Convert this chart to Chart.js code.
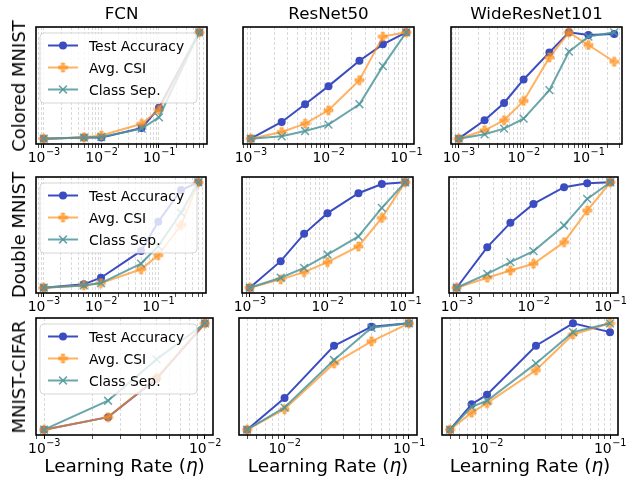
<!DOCTYPE html>
<html>
<head>
<meta charset="utf-8">
<script src="https://cdn.jsdelivr.net/npm/chart.js@4.4.1/dist/chart.umd.min.js"></script>
<style>
  html, body { margin: 0; padding: 0; background: #fff; }
  #fig { position: relative; width: 640px; height: 481px; overflow: hidden;
         font-family: "DejaVu Sans", sans-serif; color: #000; }
  #fig canvas { position: absolute; }
  .lbl { position: absolute; white-space: nowrap; line-height: 1; }
</style>
</head>
<body>
<div id="fig"></div>
<script>
// ---- data: learning rates and normalised metrics per (dataset, model) ----
const models = ['FCN', 'ResNet50', 'WideResNet101'];
const datasetNames = ['Colored MNIST', 'Double MNIST', 'MNIST-CIFAR'];
const seriesNames = ['Test Accuracy', 'Avg. CSI', 'Class Sep.'];

// Colored MNIST
const lrFcnColored  = [1e-3, 5e-3, 1e-2, 5e-2, 1e-1, 5e-1];
const accFcnColored = [0, 0.010, 0.010, 0.100, 0.290, 1];
const csiFcnColored = [0, 0.013, 0.030, 0.140, 0.270, 1];
const sepFcnColored = [0, 0.010, 0.016, 0.094, 0.200, 1];

const lrResColored  = [1e-3, 2.5e-3, 5e-3, 1e-2, 2.5e-2, 5e-2, 1e-1];
const accResColored = [0, 0.157, 0.324, 0.494, 0.733, 0.887, 1];
const csiResColored = [0, 0.063, 0.142, 0.267, 0.550, 0.960, 1];
const sepResColored = [0, 0.022, 0.072, 0.132, 0.324, 0.682, 1];

const lrWideColored  = [1e-3, 2.5e-3, 5e-3, 1e-2, 2.5e-2, 5e-2, 1e-1, 2.5e-1];
const accWideColored = [0, 0.173, 0.336, 0.557, 0.811, 1, 0.975, 0.984];
const csiWideColored = [0, 0.079, 0.173, 0.355, 0.764, 1, 0.881, 0.723];
const sepWideColored = [0, 0.041, 0.094, 0.189, 0.456, 0.818, 0.960, 1];

// Double MNIST
const lrFcnDouble  = [1e-3, 5e-3, 1e-2, 5e-2, 1e-1, 2.5e-1, 5e-1];
const accFcnDouble = [0, 0.032, 0.095, 0.349, 0.625, 0.927, 1];
const csiFcnDouble = [0, 0.022, 0.044, 0.175, 0.308, 0.594, 1];
const sepFcnDouble = [0, 0.022, 0.044, 0.229, 0.394, 0.711, 1];

const lrResDouble  = [1e-3, 2.5e-3, 5e-3, 1e-2, 2.5e-2, 5e-2, 1e-1];
const accResDouble = [0, 0.252, 0.511, 0.707, 0.896, 0.984, 1];
const csiResDouble = [0, 0.079, 0.148, 0.243, 0.391, 0.662, 1];
const sepResDouble = [0, 0.095, 0.189, 0.315, 0.486, 0.757, 1];

const lrWideDouble  = [1e-3, 2.5e-3, 5e-3, 1e-2, 2.5e-2, 5e-2, 1e-1];
const accWideDouble = [0, 0.385, 0.615, 0.795, 0.953, 0.990, 1];
const csiWideDouble = [0, 0.095, 0.164, 0.227, 0.432, 0.732, 1];
const sepWideDouble = [0, 0.132, 0.243, 0.347, 0.590, 0.842, 1];

// MNIST-CIFAR
const lrFcnCifar  = [1e-3, 2.5e-3, 5e-3, 1e-2];
const accFcnCifar = [0, 0.118, 0.479, 1];
const csiFcnCifar = [0, 0.118, 0.486, 1];
const sepFcnCifar = [0, 0.272, 0.661, 1];

const lrResCifar  = [5e-3, 1e-2, 2.5e-2, 5e-2, 1e-1];
const accResCifar = [0, 0.297, 0.789, 0.968, 1];
const csiResCifar = [0, 0.192, 0.623, 0.831, 1];
const sepResCifar = [0, 0.208, 0.655, 0.958, 1];

const lrWideCifar  = [5e-3, 7.5e-3, 1e-2, 2.5e-2, 5e-2, 1e-1];
const accWideCifar = [0, 0.240, 0.329, 0.789, 1, 0.917];
const csiWideCifar = [0, 0.160, 0.249, 0.559, 0.895, 1];
const sepWideCifar = [0, 0.214, 0.272, 0.623, 0.917, 1];

// grid of panels, row = dataset, column = model
const panelData = [
  [lrFcnColored, accFcnColored, csiFcnColored, sepFcnColored],
  [lrResColored, accResColored, csiResColored, sepResColored],
  [lrWideColored, accWideColored, csiWideColored, sepWideColored],
  [lrFcnDouble, accFcnDouble, csiFcnDouble, sepFcnDouble],
  [lrResDouble, accResDouble, csiResDouble, sepResDouble],
  [lrWideDouble, accWideDouble, csiWideDouble, sepWideDouble],
  [lrFcnCifar, accFcnCifar, csiFcnCifar, sepFcnCifar],
  [lrResCifar, accResCifar, csiResCifar, sepResCifar],
  [lrWideCifar, accWideCifar, csiWideCifar, sepWideCifar]
];

// ---- layout: plot-box edges [left, top, right, bottom] in page pixels ----
const boxes = [
  [36, 27, 207, 144], [243, 27, 414, 144], [451, 27, 622, 144],
  [36, 177, 206, 293], [242, 177, 413, 293], [449, 177, 618, 293],
  [36, 318, 213, 435], [239, 318, 417, 435], [442, 318, 618, 435]
];
const MARGIN = 20, AXIS_H = 30;
const FONT = '"DejaVu Sans", sans-serif';
const TICK_SIZE = 13.9;

// ---- styles ----
const accColor = '#3b4cc0';
const csiColor = 'rgba(255,145,30,0.7)';
const sepColor = 'rgba(80,150,155,0.85)';

// filled "plus" marker
function makePlus(color) {
  const s = 11, c = document.createElement('canvas');
  c.width = s; c.height = s;
  const g = c.getContext('2d');
  const t = 3.2, a = 1, b = s - 1, m0 = (s - t) / 2;
  g.fillStyle = color; g.strokeStyle = color; g.lineWidth = 0.8;
  g.beginPath();
  g.moveTo(m0, a); g.lineTo(m0 + t, a); g.lineTo(m0 + t, m0); g.lineTo(b, m0);
  g.lineTo(b, m0 + t); g.lineTo(m0 + t, m0 + t); g.lineTo(m0 + t, b); g.lineTo(m0, b);
  g.lineTo(m0, m0 + t); g.lineTo(a, m0 + t); g.lineTo(a, m0); g.lineTo(m0, m0);
  g.closePath(); g.fill(); g.stroke();
  return c;
}
const plusMarker = makePlus(csiColor);

function isDecade(v) { const l = Math.log10(v); return Math.abs(l - Math.round(l)) < 1e-9; }
function logTicks(min, max) {
  const out = [];
  for (let e = Math.floor(Math.log10(min)); e <= Math.ceil(Math.log10(max)); e++) {
    for (let k = 1; k <= 9; k++) {
      const v = parseFloat((k * Math.pow(10, e)).toPrecision(12));
      if (v >= min && v <= max) out.push({ value: v, major: k === 1 });
    }
  }
  return out;
}

// frame around the plot box, plus "10^n" labels under the decade ticks
const framePlugin = {
  id: 'frame',
  afterDraw(chart) {
    const { ctx, chartArea: a } = chart;
    ctx.save();
    ctx.strokeStyle = '#000';
    ctx.lineWidth = 1.6;
    ctx.strokeRect(a.left, a.top, a.right - a.left, a.bottom - a.top);

    const xs = chart.scales.x;
    const base = a.bottom + 17.5;
    const supSize = TICK_SIZE * 0.7;
    ctx.fillStyle = '#000';
    ctx.textBaseline = 'alphabetic';
    ctx.textAlign = 'left';
    xs.ticks.forEach(t => {
      if (!isDecade(t.value)) return;
      const x = xs.getPixelForValue(t.value);
      const expText = String(Math.round(Math.log10(t.value))).replace('-', '\u2212');
      ctx.font = TICK_SIZE + 'px ' + FONT;
      const wMain = ctx.measureText('10').width;
      ctx.font = supSize + 'px ' + FONT;
      const wSup = ctx.measureText(expText).width;
      const x0 = x - (wMain + wSup) / 2;
      ctx.font = TICK_SIZE + 'px ' + FONT;
      ctx.fillText('10', x0, base);
      ctx.font = supSize + 'px ' + FONT;
      ctx.fillText(expText, x0 + wMain + 0.5, base - 6.4);
    });
    ctx.restore();
  }
};

function drawMarker(ctx, kind, x, y) {
  ctx.save();
  if (kind === 0) {
    ctx.fillStyle = accColor;
    ctx.beginPath(); ctx.arc(x, y, 4, 0, Math.PI * 2); ctx.fill();
  } else if (kind === 1) {
    ctx.drawImage(plusMarker, x - plusMarker.width / 2, y - plusMarker.height / 2);
  } else {
    const d = 3.9;
    ctx.strokeStyle = sepColor; ctx.lineWidth = 1.5;
    ctx.beginPath();
    ctx.moveTo(x - d, y - d); ctx.lineTo(x + d, y + d);
    ctx.moveTo(x - d, y + d); ctx.lineTo(x + d, y - d);
    ctx.stroke();
  }
  ctx.restore();
}

const legendPlugin = {
  id: 'panelLegend',
  afterDatasetsDraw(chart) {
    const { ctx, chartArea: a } = chart;
    const x0 = a.left + 4, y0 = a.top + 6, w = 157, h = 70, r = 4;
    ctx.save();
    ctx.beginPath();
    ctx.moveTo(x0 + r, y0);
    ctx.arcTo(x0 + w, y0, x0 + w, y0 + h, r);
    ctx.arcTo(x0 + w, y0 + h, x0, y0 + h, r);
    ctx.arcTo(x0, y0 + h, x0, y0, r);
    ctx.arcTo(x0, y0, x0 + w, y0, r);
    ctx.closePath();
    ctx.fillStyle = 'rgba(255,255,255,0.8)';
    ctx.fill();
    ctx.strokeStyle = 'rgba(204,204,204,0.8)';
    ctx.lineWidth = 1;
    ctx.stroke();
    const colors = [accColor, csiColor, sepColor];
    seriesNames.forEach((name, i) => {
      const cy = a.top + 18.5 + 22 * i;
      ctx.strokeStyle = colors[i];
      ctx.lineWidth = 2;
      ctx.beginPath(); ctx.moveTo(a.left + 12, cy); ctx.lineTo(a.left + 42, cy); ctx.stroke();
      drawMarker(ctx, i, a.left + 27, cy);
      ctx.fillStyle = '#000';
      ctx.font = '13.9px ' + FONT;
      ctx.textBaseline = 'alphabetic';
      ctx.fillText(name, a.left + 53, cy + 5);
    });
    ctx.restore();
  }
};

const fig = document.getElementById('fig');

function addLabel(html, css) {
  const d = document.createElement('div');
  d.className = 'lbl';
  d.innerHTML = html;
  Object.assign(d.style, css);
  fig.appendChild(d);
  return d;
}

panelData.forEach((p, idx) => {
  const [lr, acc, csi, sep] = p;
  const [L, T, R, B] = boxes[idx];
  const row = Math.floor(idx / 3), col = idx % 3;

  const canvas = document.createElement('canvas');
  canvas.width = (R - L) + 2 * MARGIN;
  canvas.height = (B - T) + MARGIN + AXIS_H;
  canvas.style.left = (L - MARGIN) + 'px';
  canvas.style.top = (T - MARGIN) + 'px';
  fig.appendChild(canvas);

  // log-x limits with a 5% margin on each side, as in the usual auto-scaling
  const lo = Math.log10(Math.min(...lr)), hi = Math.log10(Math.max(...lr));
  const pad = 0.05 * (hi - lo);
  const xmin = Math.pow(10, lo - pad), xmax = Math.pow(10, hi + pad);

  const pts = ys => lr.map((x, i) => ({ x: x, y: ys[i] }));

  new Chart(canvas, {
    type: 'line',
    data: {
      datasets: [
        { label: seriesNames[0], data: pts(acc), borderColor: accColor, backgroundColor: accColor,
          borderWidth: 2, pointStyle: 'circle', pointRadius: 4, pointBorderWidth: 0, order: 3 },
        { label: seriesNames[1], data: pts(csi), borderColor: csiColor, backgroundColor: csiColor,
          borderWidth: 2, pointStyle: plusMarker, pointRadius: 5, order: 2 },
        { label: seriesNames[2], data: pts(sep), borderColor: sepColor, backgroundColor: sepColor,
          borderWidth: 2, pointStyle: 'crossRot', pointRadius: 5.5, pointBorderWidth: 1.5,
          pointBorderColor: sepColor, order: 1 }
      ]
    },
    options: {
      responsive: false,
      animation: false,
      events: [],
      devicePixelRatio: 1,
      layout: { padding: { left: MARGIN, right: MARGIN, top: MARGIN, bottom: 0 } },
      elements: { line: { tension: 0, fill: false } },
      datasets: { line: { clip: false } },
      plugins: { legend: { display: false }, tooltip: { enabled: false } },
      scales: {
        x: {
          type: 'logarithmic',
          min: xmin, max: xmax,
          afterBuildTicks: s => { s.ticks = logTicks(s.min, s.max); },
          afterFit: s => { s.height = AXIS_H; },
          ticks: { display: false, autoSkip: false, maxRotation: 0, minRotation: 0 },
          grid: {
            color: 'rgba(176,176,176,0.6)', lineWidth: 0.8,
            drawTicks: true, tickLength: 4, tickColor: '#000',
            tickWidth: c => (c.tick && isDecade(c.tick.value)) ? 1 : 0.7,
            tickBorderDash: []
          },
          border: { display: false, dash: [3, 2] }
        },
        y: { type: 'linear', min: -0.05, max: 1.05, display: false }
      }
    },
    plugins: col === 0 ? [legendPlugin, framePlugin] : [framePlugin]
  });

  if (row === 0) {
    addLabel(models[col], { left: ((L + R) / 2) + 'px', top: '4.6px', fontSize: '16.7px',
                            transform: 'translateX(-50%)' });
  }
  if (col === 0) {
    addLabel(datasetNames[row], { left: '18.5px', top: ((T + B) / 2) + 'px', fontSize: '18px',
                                  transform: 'translate(-50%,-50%) rotate(-90deg)' });
  }
  if (row === 2) {
    addLabel('Learning Rate (<i>\u03B7</i>)', { left: ((L + R) / 2) + 'px', top: '457px',
                                                fontSize: '18.5px', transform: 'translateX(-50%)' });
  }
});
</script>
</body>
</html>
